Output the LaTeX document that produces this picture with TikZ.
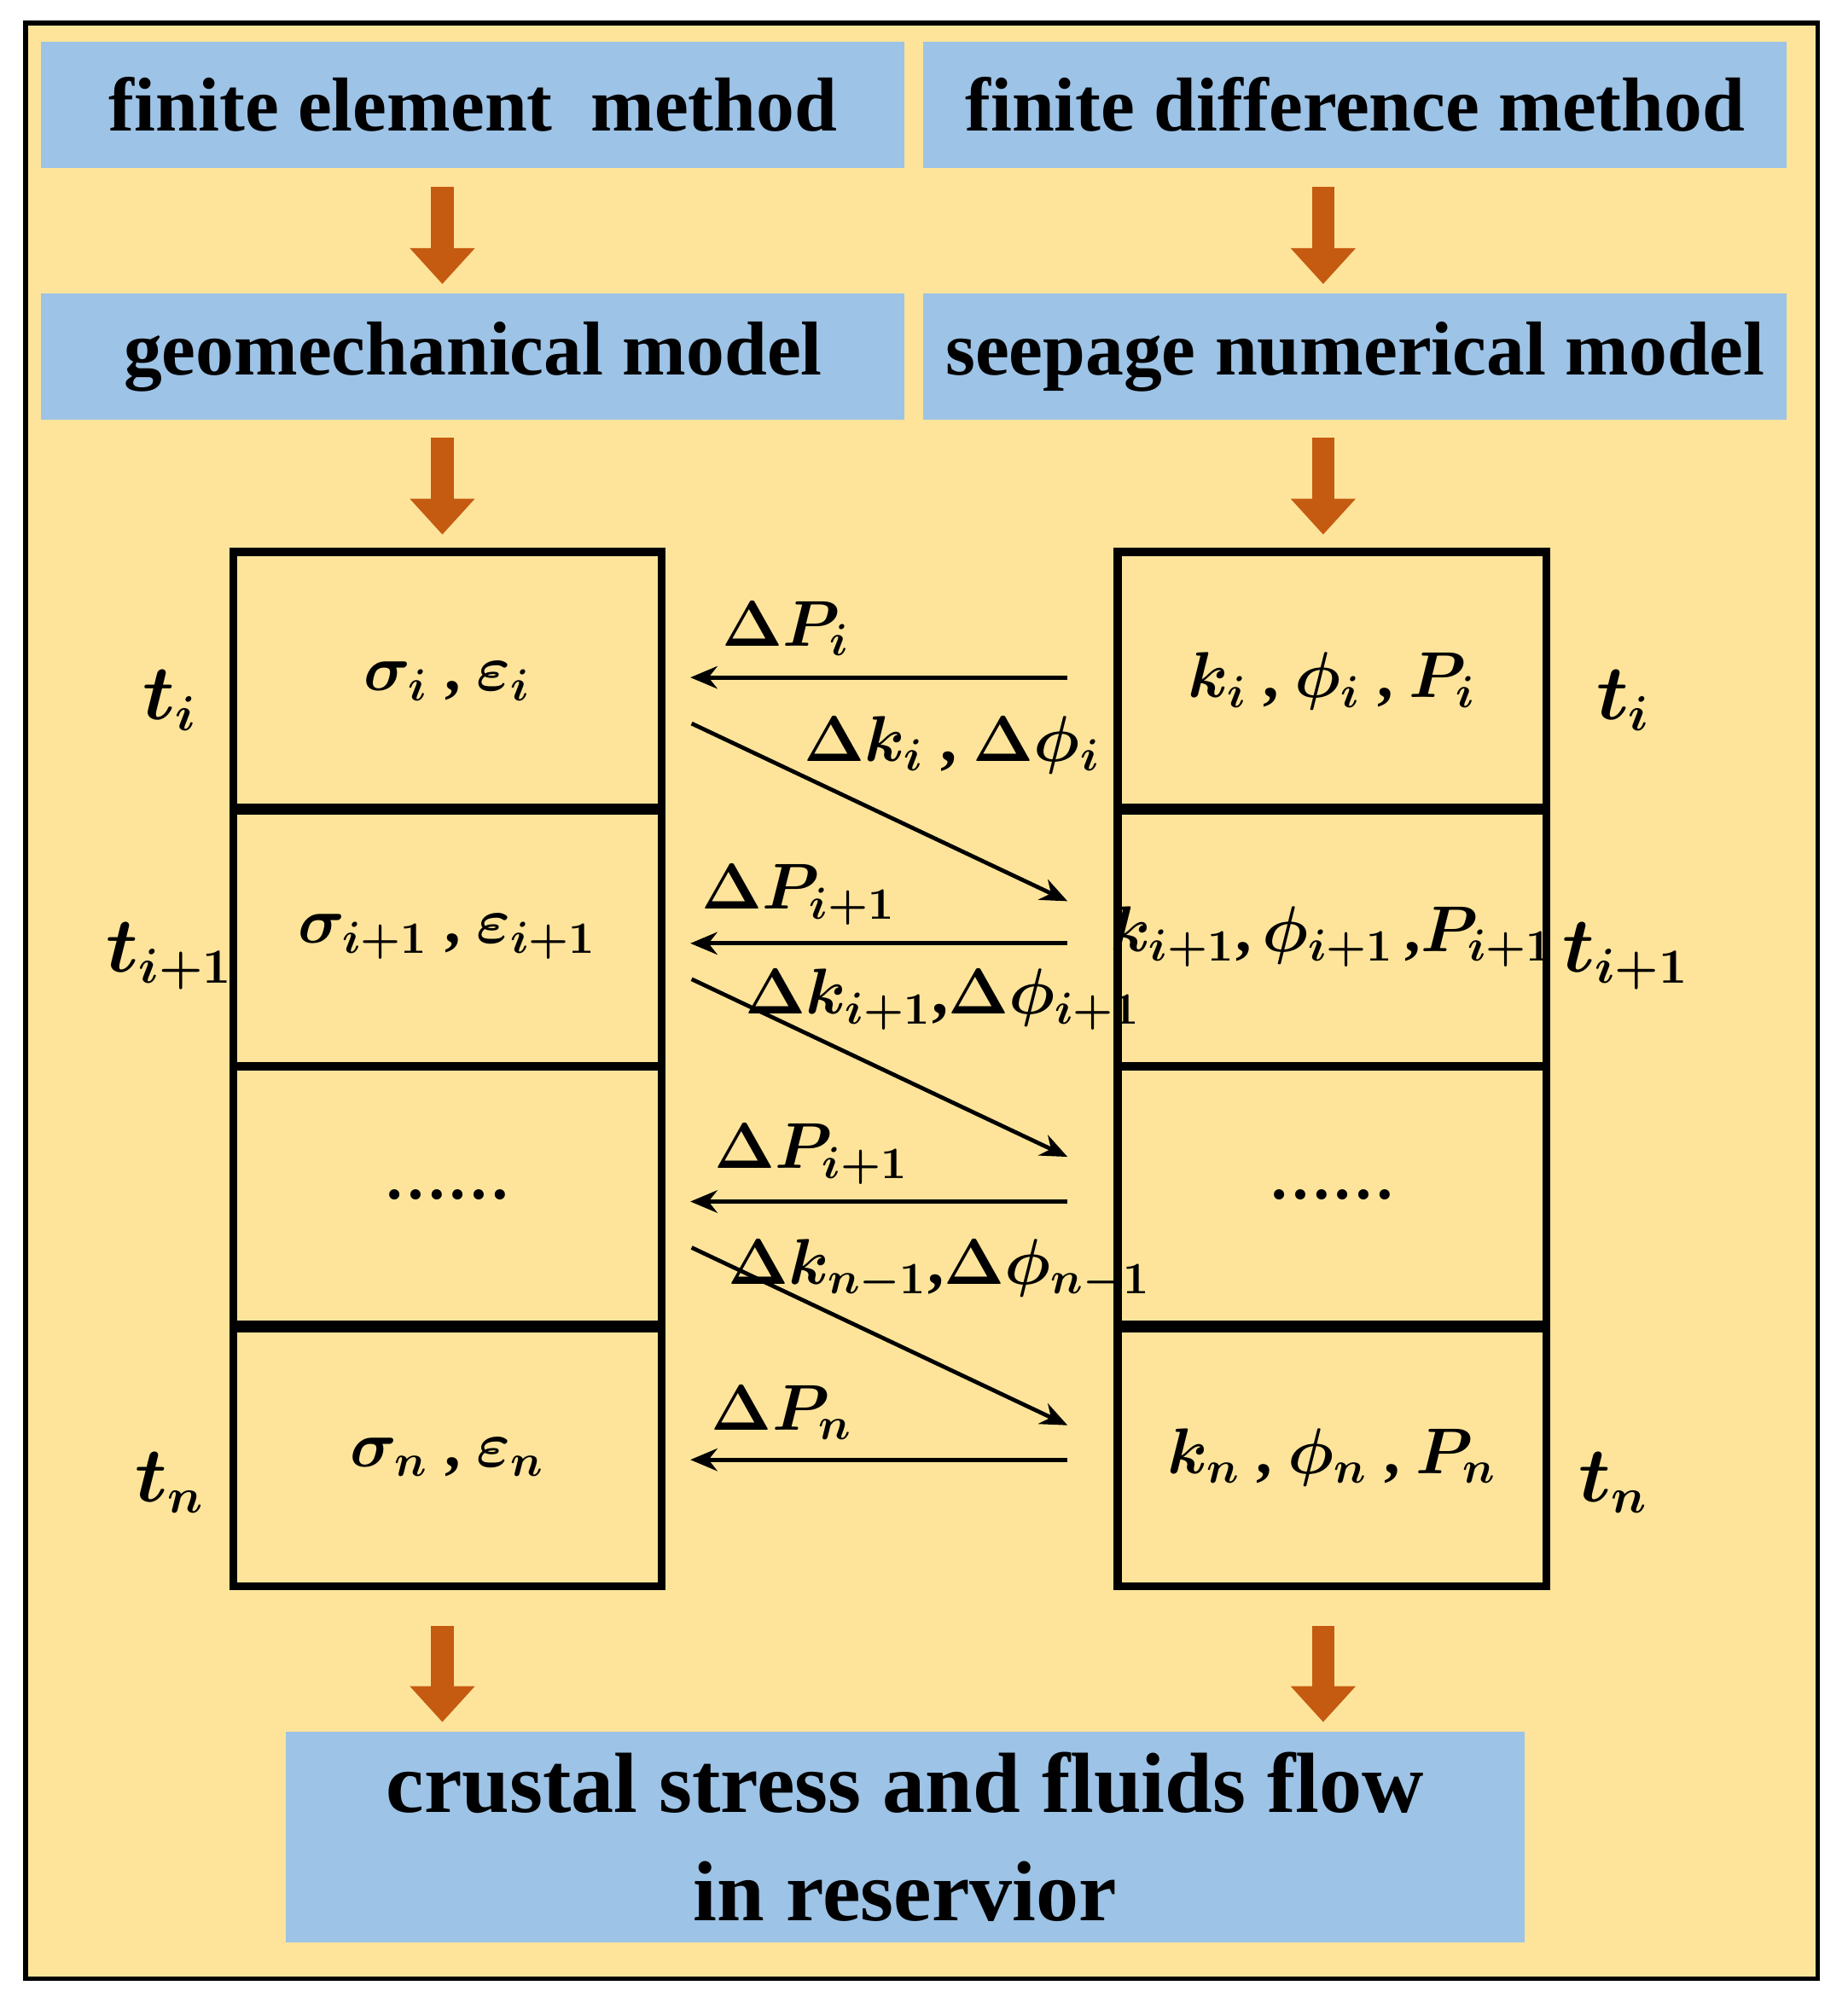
\documentclass[tikz,border=0pt]{standalone}
\usepackage{amsmath}
\usepackage{bm}
\usepackage{fontspec}
\setmainfont{Liberation Serif}
\usetikzlibrary{arrows.meta}
\definecolor{paper}{RGB}{253,228,154}
\definecolor{boxblue}{RGB}{157,195,230}
\definecolor{rust}{RGB}{197,90,17}
\tikzset{
  hdr/.style={fill=boxblue, draw=none, minimum width=6.75cm, minimum height=0.99cm,
    font=\fontsize{17}{20}\selectfont\bfseries},
  cell/.style={draw, line width=1.8pt, minimum width=3.35cm, minimum height=2.02cm,
    inner sep=0pt, font=\fontsize{14}{17}\selectfont\bfseries\boldmath},
  tlab/.style={font=\fontsize{16}{19}\selectfont\bfseries\boldmath},
  dlab/.style={font=\fontsize{14.5}{17}\selectfont\bfseries\boldmath},
  flow/.style={draw=rust, line width=5pt, -{Triangle[width=14pt,length=8pt]}},
  link/.style={line width=0.9pt, -{Stealth[length=6pt,width=5pt]}}
}
\begin{document}
\begin{tikzpicture}[x=0.01cm,y=-0.01cm]
\useasboundingbox (0,0) rectangle (1445,1567);
\draw[fill=paper, line width=1pt] (20,18) rectangle (1422,1548);

\node[hdr] (fem) at (370,82) {finite element\ \ method};
\node[hdr] (fdm) at (1060,82) {finite difference method};
\node[hdr] (geo) at (370,279) {geomechanical model};
\node[hdr] (seep) at (1060,279) {seepage numerical model};
\node[hdr, minimum width=9.68cm, minimum height=1.65cm, align=center,
  font=\fontsize{19}{24}\selectfont\bfseries] (res) at (708,1437)
  {crustal stress and fluids flow\\in reservior};

% left column
\node[cell] (s1) at (350,533) {$\sigma_{i}$ , $\varepsilon_{i}$};
\node[cell] (s2) at (350,733) {$\sigma_{i+1}$ , $\varepsilon_{i+1}$};
\node[cell] (s3) at (350,935) {\ldots\ldots};
\node[cell] (s4) at (350,1140) {$\sigma_{n}$ , $\varepsilon_{n}$};
% right column
\node[cell] (k1) at (1042,533) {$k_{i}$ , $\phi_{i}$ , $P_{i}$};
\node[cell] (k2) at (1042,733) {\makebox[3.2cm]{$k_{i+1}$,\,$\phi_{i+1}$\,,$P_{i+1}$}};
\node[cell] (k3) at (1042,935) {\ldots\ldots};
\node[cell] (k4) at (1042,1140) {$k_{n}$ , $\phi_{n}$ , $P_{n}$};

\node[tlab] (tl1) at (133,548) {$t_{i}$};
\node[tlab] (tl2) at (133,748) {$t_{i+1}$};
\node[tlab] (tl4) at (133,1160) {$t_{n}$};
\node[tlab] (tr1) at (1270,548) {$t_{i}$};
\node[tlab] (tr2) at (1272,748) {$t_{i+1}$};
\node[tlab] (tr4) at (1262,1160) {$t_{n}$};

\draw[flow] (fem.south -| 346,0) ++(0,14) -- ++(0,76);
\draw[flow] (fdm.south -| 1035,0) ++(0,14) -- ++(0,76);
\draw[flow] (geo.south -| 346,0) ++(0,13) -- ++(0,76);
\draw[flow] (seep.south -| 1035,0) ++(0,13) -- ++(0,76);
\draw[flow] (s4.south -| 346,0) ++(0,28) -- ++(0,75);
\draw[flow] (k4.south -| 1035,0) ++(0,28) -- ++(0,75);

% exchange
\coordinate (a1) at (835,530);  \coordinate (b1) at (540,530);
\coordinate (a2) at (835,738);  \coordinate (b2) at (540,738);
\coordinate (a3) at (835,940);  \coordinate (b3) at (540,940);
\coordinate (a4) at (835,1142); \coordinate (b4) at (540,1142);
\coordinate (c1) at (541,566);  \coordinate (d1) at (835,705);
\coordinate (c2) at (541,766);  \coordinate (d2) at (835,905);
\coordinate (c3) at (541,976);  \coordinate (d3) at (835,1115);
\draw[link] (a1) -- (b1);
\draw[link] (a2) -- (b2);
\draw[link] (a3) -- (b3);
\draw[link] (a4) -- (b4);
\draw[link] (c1) -- (d1);
\draw[link] (c2) -- (d2);
\draw[link] (c3) -- (d3);

\node[dlab] (p1) at (615,492) {$\Delta P_{i}$};
\node[dlab] (p2) at (625,700) {$\Delta P_{i+1}$};
\node[dlab] (p3) at (635,903) {$\Delta P_{i+1}$};
\node[dlab] (p4) at (612,1105) {$\Delta P_{n}$};
\node[dlab] (q1) at (745,583) {$\Delta k_{i}$ , $\Delta\phi_{i}$};
\node[dlab] (q2) at (738,782) {$\Delta k_{i+1}$,$\Delta\phi_{i+1}$};
\node[dlab] (q3) at (735,993) {$\Delta k_{n-1}$,$\Delta\phi_{n-1}$};
\end{tikzpicture}
\end{document}
